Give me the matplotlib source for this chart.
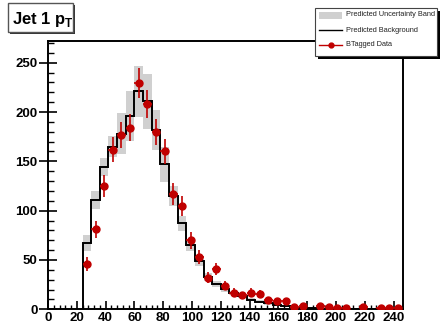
import numpy as np
import matplotlib
matplotlib.use("Agg")
import matplotlib.pyplot as plt
from matplotlib.patches import Rectangle
from matplotlib.lines import Line2D

plt.rcParams['font.family'] = ['Liberation Sans', 'DejaVu Sans']
plt.rcParams['mathtext.fontset'] = 'custom'
plt.rcParams['mathtext.rm'] = 'Liberation Sans'
plt.rcParams['mathtext.bf'] = 'Liberation Sans:bold'

# Binning: 6 GeV bins, first filled bin starts at 24
bin_low = 24
bin_width = 6
n_bins = 37

# Predicted background per bin
background = [67.5, 111, 144, 165, 178, 196, 221, 211, 182, 147,
              115, 87, 65, 49, 33, 26, 21, 16.5, 13, 9.5,
              7.5, 6, 4.5, 3, 1.5, 1.2, 1.0, 0.8, 0.6, 0.5,
              0.4, 0.3, 0.3, 0.2, 0.2, 0.1, 0.1]

# Half-width of the prediction uncertainty band per bin
band_half = [8, 9, 9, 11, 21, 25, 26, 28, 20, 18,
             10, 8, 6, 5, 4, 3, 3, 2.5, 2, 1.5,
             1.5, 1.2, 1, 0.8, 0.6, 0.5, 0.4, 0.4, 0.3, 0.3,
             0.2, 0.2, 0.2, 0.1, 0.1, 0.1, 0.1]

# b-tagged data counts per bin
data = [46, 81, 125, 162, 177, 184, 229, 208, 180, 160,
        117, 105, 70, 53, 32, 41, 24, 17, 14, 17,
        16, 9, 8, 8, 2, 3, 0, 3, 2, 1,
        1, 0, 2, 0, 1, 1, 1]

x_ticks = list(range(0, 241, 20))
y_ticks = list(range(0, 251, 50))

W, H = 441, 328
fig = plt.figure(figsize=(W / 100, H / 100), dpi=100)
fig.patch.set_facecolor('white')

left, right, bottom, top = 48, 403, 309.3, 41
ax = fig.add_axes([left / W, 1 - bottom / H, (right - left) / W, (bottom - top) / H])

edges = bin_low + bin_width * np.arange(n_bins + 1)
centers = edges[:-1] + bin_width / 2
bkg = np.array(background, dtype=float)
half = np.array(band_half, dtype=float)
cnt = np.array(data, dtype=float)

# uncertainty band
ax.bar(centers, 2 * half, bottom=bkg - half, width=bin_width,
       color='#d0d0d0', linewidth=0, zorder=1)
# background prediction
ax.stairs(bkg, edges, baseline=0, color='black', linewidth=1.4, zorder=2)
# data points
mask = cnt > 0
ax.errorbar(centers[mask], cnt[mask], yerr=np.sqrt(cnt[mask]), xerr=bin_width / 2,
            fmt='o', color='#c00000', ms=5, elinewidth=1.2, capsize=0, zorder=3)

ax.set_xlim(0, 246.5)
ax.set_ylim(0, 272)
ax.set_xticks(x_ticks)
ax.set_yticks(y_ticks)
ax.set_xticks(np.arange(0, 247, 4), minor=True)
ax.set_yticks(np.arange(0, 272, 10), minor=True)
ax.tick_params(axis='x', which='major', direction='in', length=6, width=1.2,
               labelsize=9.5, pad=2)
ax.tick_params(axis='x', which='minor', direction='in', length=3, width=1.0)
ax.tick_params(axis='y', which='major', direction='inout', length=13, width=1.2,
               labelsize=9.5, pad=1)
ax.tick_params(axis='y', which='minor', direction='in', length=4.5, width=1.0)
for lab in ax.get_xticklabels() + ax.get_yticklabels():
    lab.set_fontweight('bold')
for s in ax.spines.values():
    s.set_linewidth(1.4)


def fx(px):
    return px / W


def fy(py):
    return 1 - py / H


# title pave with shadow
fig.add_artist(Rectangle((fx(10), fy(34)), (73 - 8) / W, (34 - 5) / H,
                         transform=fig.transFigure, facecolor='#333333',
                         edgecolor='none', zorder=5))
fig.add_artist(Rectangle((fx(8), fy(32)), (73 - 8) / W, (32 - 3) / H,
                         transform=fig.transFigure, facecolor='white',
                         edgecolor='#555555', linewidth=1.0, zorder=6))
fig.text(fx(12), fy(24), r'Jet 1 p$_{\mathbf{T}}$', fontsize=12, fontweight='bold',
         ha='left', va='baseline', zorder=7)

# legend box with shadow
lx0, lx1, ly0, ly1 = 315, 437, 8, 56
fig.add_artist(Rectangle((fx(lx0 + 3), fy(ly1 + 3)), (lx1 - lx0) / W, (ly1 - ly0) / H,
                         transform=fig.transFigure, facecolor='black',
                         edgecolor='none', zorder=5))
fig.add_artist(Rectangle((fx(lx0), fy(ly1)), (lx1 - lx0) / W, (ly1 - ly0) / H,
                         transform=fig.transFigure, facecolor='white',
                         edgecolor='#444444', linewidth=0.8, zorder=6))
fig.add_artist(Rectangle((fx(319), fy(19)), 23 / W, 7 / H,
                         transform=fig.transFigure, facecolor='#d0d0d0',
                         edgecolor='none', zorder=7))
fig.add_artist(Line2D([fx(319), fx(342)], [fy(30), fy(30)], transform=fig.transFigure,
                      color='black', linewidth=1.0, zorder=7))
fig.add_artist(Line2D([fx(319), fx(342)], [fy(45), fy(45)], transform=fig.transFigure,
                      color='#c00000', linewidth=1.0, zorder=7))
fig.add_artist(Line2D([fx(330.5)], [fy(45)], transform=fig.transFigure, marker='o',
                      color='#c00000', ms=3.5, zorder=8))
legend_labels = ['Predicted Uncertainty Band', 'Predicted Background', 'BTagged Data']
for lab, py in zip(legend_labels, [15, 30, 45]):
    fig.text(fx(346), fy(py), lab, fontsize=5.3, ha='left', va='center',
             color='#222222', zorder=8)

fig.savefig('out.png', dpi=100)
